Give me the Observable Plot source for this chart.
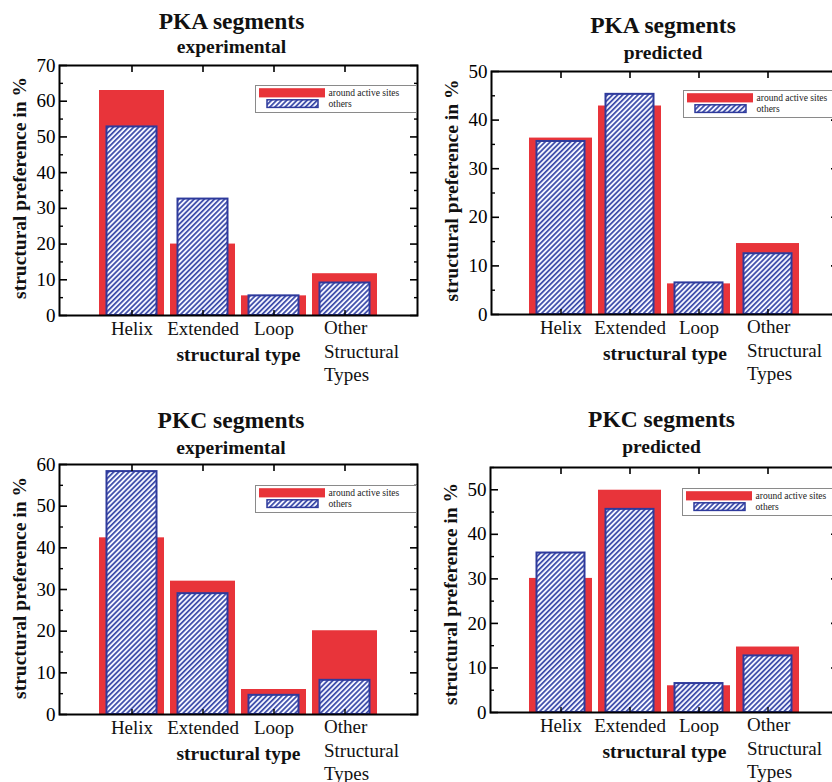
<!DOCTYPE html>
<html><head><meta charset="utf-8">
<script src="https://cdn.jsdelivr.net/npm/d3@7"></script>
<script src="https://cdn.jsdelivr.net/npm/@observablehq/plot@0.6"></script>
<style>
html,body{margin:0;padding:0;background:#fff;overflow:hidden;}
#root{position:relative;width:832px;height:782px;overflow:hidden;background:#fff;}
.panel{position:absolute;}
.panel svg{overflow:visible;max-width:none;}
</style></head><body>
<svg width="0" height="0" style="position:absolute;left:0;top:0">
<defs><pattern id="hatch" patternUnits="userSpaceOnUse" width="3.6" height="3.6" patternTransform="rotate(45)">
<rect width="3.6" height="3.6" fill="#f4f5ff"/><rect width="1.7" height="3.6" fill="#3a4aa8"/></pattern></defs></svg>
<div id="root"></div>
<script>
// ---- data ----
const categories = ["Helix", "Extended", "Loop", "Other\nStructural\nTypes"];
const pkaExpActive  = [63.0, 20.0, 5.5, 11.7];
const pkaExpOthers  = [52.8, 32.6, 5.5, 9.1];
const pkaPredActive = [36.3, 42.9, 6.3, 14.6];
const pkaPredOthers = [35.6, 45.3, 6.5, 12.5];
const pkcExpActive  = [42.4, 32.0, 6.0, 20.1];
const pkcExpOthers  = [58.3, 29.0, 4.6, 8.2];
const pkcPredActive = [30.1, 49.9, 6.0, 14.7];
const pkcPredOthers = [35.8, 45.6, 6.5, 12.7];
const panelTitles = ["PKA segments", "PKA segments", "PKC segments", "PKC segments"];
const panelSubtitles = ["experimental", "predicted", "experimental", "predicted"];
const yMaxima = [70, 50, 60, 55];
const yLabel = "structural preference in %";
const xLabel = "structural type";
const legendLabels = ["around active sites", "others"];

// ---- styles ----
const FONT = "'Liberation Serif', 'Times New Roman', serif";
const RED = "#e8343a";
const BLUE = "#2e3a9c";

const panels = [
  {active: pkaExpActive, others: pkaExpOthers, left: 0, top: 0, width: 420, ml: 59, mr: 3, mt: 65, mb: 76, tdx: -7, t1: -36.5, t2: -12.5, ydy: -2.5, legend: [255, 85]},
  {active: pkaPredActive, others: pkaPredOthers, left: 416, top: 0, width: 430, ml: 75, mr: 8, mt: 71, mb: 77, tdx: -2, t1: -38.5, t2: -13, ydy: -2.5, legend: [682.5, 89.5]},
  {active: pkcExpActive, others: pkcExpOthers, left: 0, top: 391, width: 420, ml: 59, mr: 3, mt: 73, mb: 68, tdx: -7.5, t1: -36.5, t2: -10.5, ydy: -1.5, legend: [255, 485.3]},
  {active: pkcPredActive, others: pkcPredOthers, left: 416, top: 391, width: 430, ml: 74, mr: 8, mt: 76, mb: 70, tdx: -3, t1: -41, t2: -14.5, ydy: 4, legend: [681.7, 488.3]}
];

const root = document.getElementById("root");

panels.forEach((cfg, p) => {
  const data = categories.map((c, i) => ({cat: c, active: cfg.active[i], others: cfg.others[i]}));
  const yMax = yMaxima[p];
  const major = d3.range(0, yMax + 0.001, 10);
  const minor = d3.range(5, yMax + 0.001, 10);
  const single = data.filter(d => !d.cat.includes("\n"));
  const multi = data.filter(d => d.cat.includes("\n"));
  const chart = Plot.plot({
    width: cfg.width,
    height: 391,
    marginLeft: cfg.ml, marginRight: cfg.mr, marginTop: cfg.mt, marginBottom: cfg.mb,
    style: {fontFamily: FONT, overflow: "visible", maxWidth: "none", background: "transparent", color: "black"},
    x: {type: "band", domain: categories, paddingInner: 0.08, paddingOuter: 0.54, label: null},
    y: {domain: [0, yMax], label: null},
    marks: [
      Plot.barY(data, {x: "cat", y: "active", fill: RED}),
      Plot.barY(data, {x: "cat", y: "others", fill: "url(#hatch)", stroke: BLUE, strokeWidth: 2, insetLeft: 7.5, insetRight: 7.5}),
      Plot.axisY({ticks: major, tickSize: 8, dx: 8, tickPadding: 4, fontSize: 19, fontFamily: FONT, strokeWidth: 1.6, label: null}),
      Plot.axisY({ticks: minor, tickSize: 4, dx: 4, tickFormat: () => "", strokeWidth: 1.4, label: null}),
      Plot.axisY({anchor: "right", ticks: major, tickSize: 8, dx: -8, tickFormat: () => "", strokeWidth: 1.6, label: null}),
      Plot.axisY({anchor: "right", ticks: minor, tickSize: 4, dx: -4, tickFormat: () => "", strokeWidth: 1.4, label: null}),
      Plot.axisX({anchor: "top", tickSize: 6, dy: 6, tickFormat: () => "", strokeWidth: 1.6, label: null}),
      Plot.axisX({anchor: "bottom", tickSize: 5, dy: -5, tickFormat: () => "", strokeWidth: 1.4, label: null}),
      Plot.text(single, {x: "cat", text: "cat", frameAnchor: "bottom", lineAnchor: "top", dy: 5.5, fontSize: 19, fontFamily: FONT, fill: "#111"}),
      Plot.text(multi, {x: "cat", text: "cat", frameAnchor: "bottom", lineAnchor: "top", textAnchor: "start", dx: -21, dy: 2.3, lineHeight: 1.237, fontSize: 19, fontFamily: FONT, fill: "#111"}),
      Plot.text([xLabel], {text: d => d, frameAnchor: "bottom", lineAnchor: "bottom", dy: 45, fontSize: 19.5, fontWeight: "bold", fontFamily: FONT, fill: "#111"}),
      Plot.text([yLabel], {text: d => d, frameAnchor: "left", textAnchor: "middle", rotate: -90, lineAnchor: "bottom", dx: -34, dy: cfg.ydy, fontSize: 19.5, fontWeight: "bold", fontFamily: FONT, fill: "#111"}),
      Plot.text([panelTitles[p]], {text: d => d, frameAnchor: "top", lineAnchor: "bottom", dx: cfg.tdx, dy: cfg.t1, fontSize: 23.5, fontWeight: "bold", fontFamily: FONT, fill: "#111"}),
      Plot.text([panelSubtitles[p]], {text: d => d, frameAnchor: "top", lineAnchor: "bottom", dx: cfg.tdx, dy: cfg.t2, fontSize: 19.5, fontWeight: "bold", fontFamily: FONT, fill: "#111"}),
      Plot.frame({stroke: "black", strokeWidth: 2})
    ]
  });
  const div = document.createElement("div");
  div.className = "panel";
  div.style.left = cfg.left + "px";
  div.style.top = cfg.top + "px";
  div.appendChild(chart);
  root.appendChild(div);

  // legend
  const [lx, ly] = cfg.legend;
  const svg = d3.create("svg").attr("width", 162).attr("height", 28)
    .style("position", "absolute").style("left", lx + "px").style("top", ly + "px").style("overflow", "visible");
  svg.append("rect").attr("x", 0.5).attr("y", 0.5).attr("width", 161).attr("height", 27).attr("fill", "#fff").attr("stroke", "#8a8a8a").attr("stroke-width", 1);
  svg.append("rect").attr("x", 4).attr("y", 3.2).attr("width", 66).attr("height", 9.2).attr("fill", RED);
  svg.append("rect").attr("x", 12).attr("y", 14.8).attr("width", 51).attr("height", 7.6).attr("fill", "url(#hatch)").attr("stroke", BLUE).attr("stroke-width", 1.5);
  svg.selectAll("text.lg").data(legendLabels).join("text")
    .attr("x", 73.5).attr("y", (d, i) => i === 0 ? 10.5 : 21.5)
    .attr("font-family", FONT).attr("font-size", 9.5).attr("fill", "#222")
    .text(d => d);
  root.appendChild(svg.node());
});
</script>
</body></html>
